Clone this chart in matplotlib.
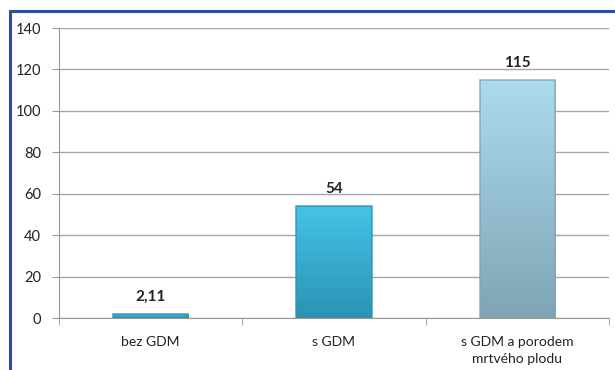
import matplotlib
matplotlib.use("Agg")
import matplotlib.pyplot as plt
import numpy as np
from matplotlib.patches import Rectangle
from matplotlib.colors import LinearSegmentedColormap

categories = ["bez GDM", "s GDM", "s GDM a porodem\nmrtvého plodu"]
values = [2.11, 54, 115]
value_labels = ["2,11", "54", "115"]
yticks = [0, 20, 40, 60, 80, 100, 120, 140]

plt.rcParams['font.family'] = ['Lato', 'DejaVu Sans']

W, H = 615, 370
fig = plt.figure(figsize=(W / 100, H / 100), dpi=100)
ax = fig.add_axes([59 / W, 1 - 318 / H, (609 - 59) / W, (318 - 28) / H])

x = np.arange(len(categories))
bars = ax.bar(x, values, width=0.41, color="none", edgecolor="none", zorder=3)

grad_colors = [
    ("#2a93b3", "#45c3e6"),
    ("#2a93b3", "#45c3e6"),
    ("#7fa5b4", "#acdbee"),
]
for b, (c0, c1) in zip(bars, grad_colors):
    cmap = LinearSegmentedColormap.from_list("g", [c0, c1])
    bx, by, bw, bh = b.get_x(), b.get_y(), b.get_width(), b.get_height()
    grad = np.linspace(0, 1, 256).reshape(-1, 1)
    im = ax.imshow(grad, cmap=cmap, origin="lower", aspect="auto",
                   extent=[bx, bx + bw, by, by + bh], zorder=3)
    im.set_clip_path(b)
    ax.add_patch(Rectangle((bx, by), bw, bh, fill=False,
                           edgecolor=c0, lw=1.2, zorder=4, alpha=0.8))

for xi, v, lab in zip(x, values, value_labels):
    ax.annotate(lab, (xi, v), xytext=(0, 7), textcoords="offset points",
                ha="center", va="bottom", fontsize=11, fontweight="bold",
                color="#222222")

ax.set_xlim(-0.5, len(categories) - 0.5)
ax.set_ylim(0, 140)
ax.set_yticks(yticks)
ax.set_yticklabels([str(t) for t in yticks], fontsize=10.5, color="#222222")
ax.set_xticks(x)
ax.set_xticklabels(categories, fontsize=10, color="#222222", linespacing=1.45)
ax.tick_params(axis="x", length=0, pad=13)
ax.set_xticks(np.arange(len(categories) + 1) - 0.5, minor=True)
ax.tick_params(axis="x", which="minor", length=5, color="#999999")
ax.tick_params(axis="y", length=5, color="#999999", pad=8)

ax.yaxis.grid(True, color="#a6a6a6", lw=1)
ax.set_axisbelow(True)
for s in ["top", "right"]:
    ax.spines[s].set_visible(False)
ax.spines["left"].set_color("#999999")
ax.spines["bottom"].set_color("#999999")

fig.patches.append(Rectangle((10 / W, -0.1), 1.2, 1 - 11 / H + 0.1,
                             transform=fig.transFigure, fill=False,
                             edgecolor="#2b4ea2", lw=2.2, zorder=0))

fig.savefig("out.png", dpi=100)
